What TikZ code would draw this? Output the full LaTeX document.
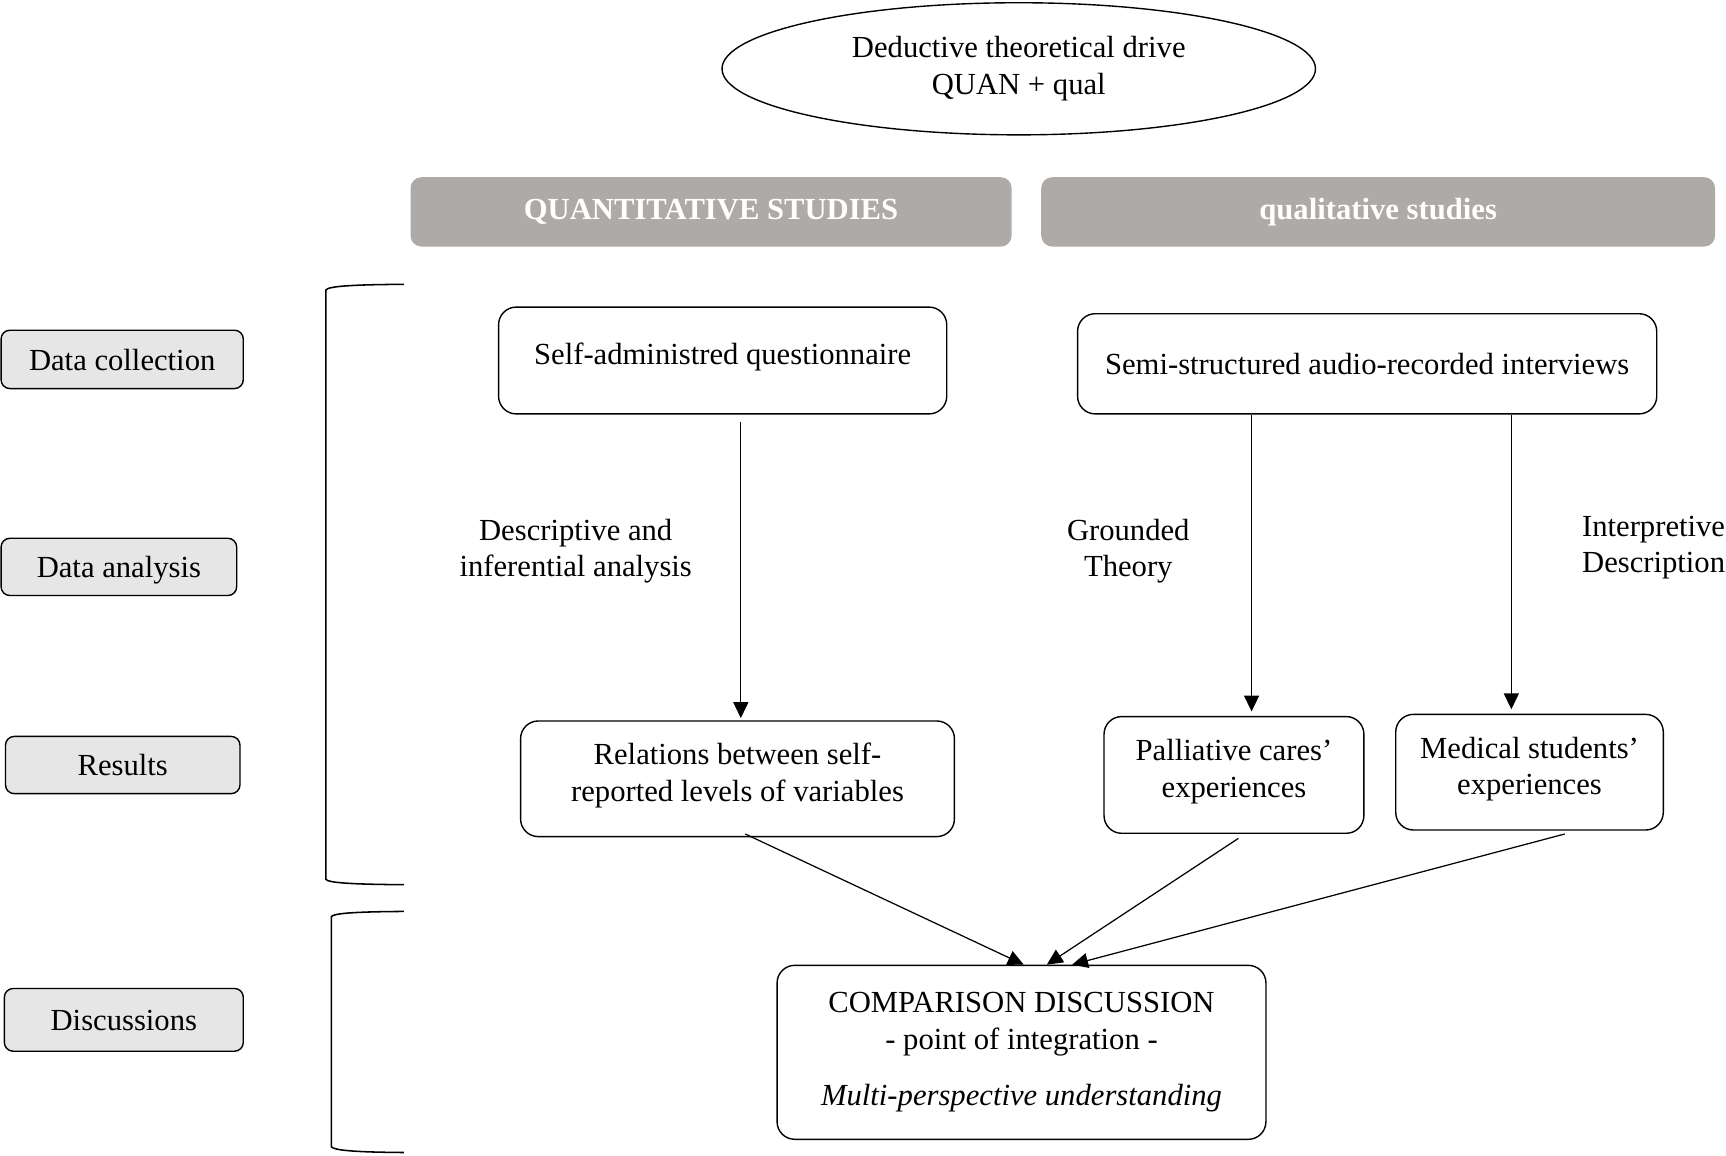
\documentclass[tikz,border=0pt]{standalone}
\usepackage{fontspec}
\setmainfont{Liberation Serif}
\usetikzlibrary{arrows.meta,calc,shapes.geometric}
\definecolor{headgrey}{RGB}{174,170,168}
\definecolor{stagegrey}{RGB}{230,230,230}
\begin{document}
\begin{tikzpicture}[x=0.025cm,y=-0.025cm,
  every node/.style={font=\fontsize{19.8}{23.5}\selectfont},
  box/.style={draw, line width=0.9pt, rounded corners=0.4cm, inner sep=0, align=center},
  lowbox/.style={box, text depth=8.5pt},
  stagebox/.style={draw, line width=0.9pt, fill=stagegrey, rounded corners=0.2cm, inner sep=0, text depth=0pt},
  header/.style={fill=headgrey, rounded corners=0.25cm, inner sep=0, text=white,
    font=\fontsize{19.8}{23.5}\selectfont\bfseries},
  txt/.style={align=center, inner sep=0},
  arr/.style={line width=0.8pt, -{Triangle[length=0.36cm,width=0.34cm]}},
  bracket/.style={line width=1pt}]
\useasboundingbox (0,0) rectangle (1568,1050);

% theoretical drive
\node[draw, ellipse, line width=0.9pt, inner sep=0, align=center,
  minimum width=13.475cm, minimum height=3cm] (drive) at (925.5,62.5)
  {Deductive theoretical drive\\QUAN + qual};

% column headers
\node[header, minimum width=13.65cm, minimum height=1.575cm] (hquan) at (646,192.5) {QUANTITATIVE STUDIES};
\node[header, minimum width=15.3cm, minimum height=1.575cm] (hqual) at (1252,192.5) {qualitative studies};

% stage labels
\node[stagebox, minimum width=5.5cm, minimum height=1.325cm] (dc) at (111,326.5) {Data collection};
\node[stagebox, minimum width=5.35cm, minimum height=1.3cm] (da) at (108,515) {Data analysis};
\node[stagebox, minimum width=5.325cm, minimum height=1.3cm] (res) at (111.5,695) {Results};
\node[stagebox, minimum width=5.425cm, minimum height=1.425cm] (disc) at (112.5,926.5) {Discussions};

% brackets grouping the stages
\draw[bracket] (367,258.3) .. controls (320,258.6) and (298,260) .. (296,263.5)
  -- (296,798.8) .. controls (298,802) and (320,803.4) .. (367,803.7);
\draw[bracket] (367,828) .. controls (322,828.3) and (303,829.7) .. (301,832.7)
  -- (301,1041.7) .. controls (303,1045) and (322,1046.7) .. (367,1047);

% data collection
\node[lowbox, minimum width=10.175cm, minimum height=2.425cm] (sq) at (656.5,327.5) {Self-administred questionnaire};
\node[box, minimum width=13.15cm, minimum height=2.275cm] (ssi) at (1242,330.5) {Semi-structured audio-recorded interviews};

% results
\node[lowbox, minimum width=9.85cm, minimum height=2.625cm] (rel) at (670,707.5) {Relations between self-\\reported levels of variables};
\node[lowbox, minimum width=5.9cm, minimum height=2.65cm] (pal) at (1121,704) {Palliative cares’\\experiences};
\node[lowbox, minimum width=6.075cm, minimum height=2.625cm] (med) at (1389.5,701.5) {Medical students’\\experiences};

% integration
\node[box, minimum width=11.1cm, minimum height=3.95cm] (comp) at (928,956)
  {COMPARISON DISCUSSION\\- point of integration -\\[13pt]\textit{Multi-perspective understanding}};

% analysis labels
\node[txt] (desc) at (523,500.5) {Descriptive and\\inferential analysis};
\node[txt] (gt) at (1025,500.5) {Grounded\\Theory};
\node[txt, align=left, anchor=west] (idesc) at (1437,497.5) {Interpretive\\Description};

% analysis arrows
\coordinate (qa) at (673,0);
\coordinate (ga) at (1137,0);
\coordinate (ia) at (1373,0);
\draw[arr, shorten <=0.175cm, shorten >=0.05cm] (sq.south -| qa) -- (rel.north -| qa);
\draw[arr, shorten >=0.1cm] (ssi.south -| ga) -- (pal.north -| ga);
\draw[arr, shorten >=0.1cm] (ssi.south -| ia) -- (med.north -| ia);

% integration arrows
\draw[arr] ($(rel.south)+(7,-3)$) -- ($(comp.north)+(2,0)$);
\draw[arr] ($(pal.south)+(4,4)$) -- ($(comp.north)+(23,0)$);
\draw[arr] ($(med.south)+(32,3)$) -- ($(comp.north)+(46,0)$);
\end{tikzpicture}
\end{document}
